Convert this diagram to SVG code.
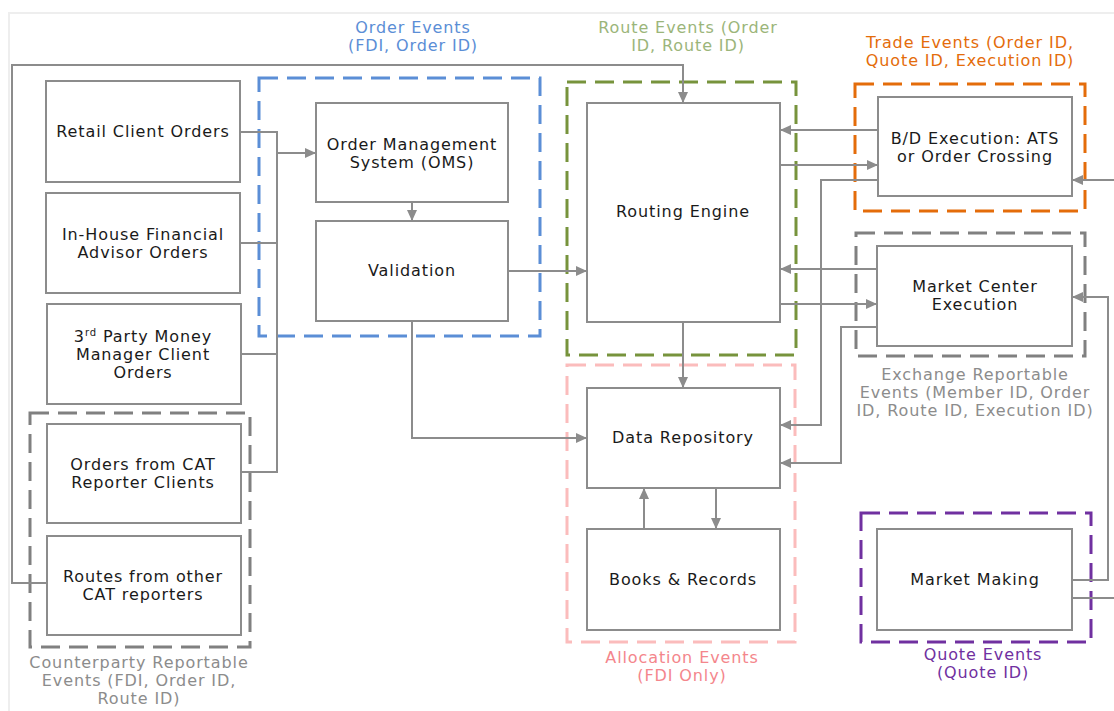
<svg xmlns="http://www.w3.org/2000/svg" width="1114" height="711" viewBox="0 0 1114 711">
<defs>
<marker id="ah" markerUnits="userSpaceOnUse" markerWidth="12" markerHeight="10" refX="11" refY="5" orient="auto">
<path d="M0,0 L11,5 L0,10 Z" fill="#8c8c8c"/>
</marker>
<style>
.node rect{fill:#fff;stroke:#8c8c8c;stroke-width:2}
.node text{font-family:"DejaVu Sans",Verdana,sans-serif;font-size:16px;letter-spacing:0.9px;fill:#1a1a1a;text-anchor:middle}
.grp{fill:none;stroke-width:3;stroke-dasharray:19 9}
.lbl{font-family:"DejaVu Sans",Verdana,sans-serif;font-size:16px;letter-spacing:0.9px;text-anchor:middle}
.conn path{fill:none;stroke:#8c8c8c;stroke-width:2}
.arr{marker-end:url(#ah)}
</style>
</defs>
<rect x="0" y="0" width="1114" height="711" fill="#fff"/>
<path d="M9,711 V13 H1114" fill="none" stroke="#eeeeee" stroke-width="2"/>

<g id="groups">
<rect id="g-order" class="grp" x="259" y="78" width="281" height="258" stroke="#5B8ED6"/>
<rect id="g-route" class="grp" x="567" y="82" width="229" height="273" stroke="#77933C"/>
<rect id="g-alloc" class="grp" x="567" y="365" width="228" height="277" stroke="#FBBCBC"/>
<rect id="g-trade" class="grp" x="855" y="84" width="230" height="127" stroke="#E46C0A"/>
<rect id="g-exch" class="grp" x="856" y="233" width="229" height="123" stroke="#808080"/>
<rect id="g-quote" class="grp" x="861" y="513" width="230" height="129" stroke="#7030A0"/>
<rect id="g-counter" class="grp" x="30" y="413" width="220" height="234" stroke="#808080"/>
</g>

<g id="labels">
<text class="lbl" fill="#5B8ED6" x="413" y="33">Order Events</text>
<text class="lbl" fill="#5B8ED6" x="413" y="51">(FDI, Order ID)</text>
<text class="lbl" fill="#9BB57A" x="688" y="33">Route Events (Order</text>
<text class="lbl" fill="#9BB57A" x="688" y="51">ID, Route ID)</text>
<text class="lbl" fill="#E46C0A" x="970" y="48">Trade Events (Order ID,</text>
<text class="lbl" fill="#E46C0A" x="970" y="66">Quote ID, Execution ID)</text>
<text class="lbl" fill="#8c8c8c" x="975" y="380">Exchange Reportable</text>
<text class="lbl" fill="#8c8c8c" x="975" y="398">Events (Member ID, Order</text>
<text class="lbl" fill="#8c8c8c" x="975" y="416">ID, Route ID, Execution ID)</text>
<text class="lbl" fill="#F4868C" x="682" y="663">Allocation Events</text>
<text class="lbl" fill="#F4868C" x="682" y="681">(FDI Only)</text>
<text class="lbl" fill="#7030A0" x="983" y="660">Quote Events</text>
<text class="lbl" fill="#7030A0" x="983" y="678">(Quote ID)</text>
<text class="lbl" fill="#8c8c8c" x="139" y="668">Counterparty Reportable</text>
<text class="lbl" fill="#8c8c8c" x="139" y="686">Events (FDI, Order ID,</text>
<text class="lbl" fill="#8c8c8c" x="139" y="704">Route ID)</text>
</g>

<g id="connectors" class="conn">
<path d="M240,132 H277 V472 H241"/>
<path d="M240,243 H277"/>
<path d="M241,354 H277"/>
<path class="arr" d="M277,153 H316"/>
<path class="arr" d="M47,583 H12 V65 H683 V103"/>
<path class="arr" d="M412,202 V221"/>
<path class="arr" d="M508,271 H587"/>
<path class="arr" d="M412,321 V438 H587"/>
<path class="arr" d="M683,322 V388"/>
<path class="arr" d="M644,529 V488"/>
<path class="arr" d="M716,488 V529"/>
<path class="arr" d="M878,130 H780"/>
<path class="arr" d="M780,165 H878"/>
<path class="arr" d="M878,180 H821 V425 H780"/>
<path class="arr" d="M877,269 H780"/>
<path class="arr" d="M780,304 H877"/>
<path class="arr" d="M877,327 H841 V463 H780"/>
<path class="arr" d="M1072,580 H1108 V297 H1072"/>
<path d="M1072,598 H1114"/>
<path class="arr" d="M1114,180 H1072"/>
</g>

<g id="n-retail" class="node"><rect x="46" y="81" width="194" height="101"/><text x="143" y="137">Retail Client Orders</text></g>
<g id="n-inhouse" class="node"><rect x="46" y="193" width="194" height="100"/><text x="143" y="240">In-House Financial</text><text x="143" y="258">Advisor Orders</text></g>
<g id="n-3rd" class="node"><rect x="47" y="304" width="194" height="100"/><text x="143" y="342">3<tspan font-size="10" dy="-6">rd</tspan><tspan dy="6"> Party Money</tspan></text><text x="143" y="360">Manager Client</text><text x="143" y="378">Orders</text></g>
<g id="n-catclients" class="node"><rect x="47" y="424" width="194" height="99"/><text x="143" y="470">Orders from CAT</text><text x="143" y="488">Reporter Clients</text></g>
<g id="n-routes" class="node"><rect x="47" y="536" width="194" height="99"/><text x="143" y="582">Routes from other</text><text x="143" y="600">CAT reporters</text></g>
<g id="n-oms" class="node"><rect x="316" y="103" width="192" height="99"/><text x="412" y="150">Order Management</text><text x="412" y="168">System (OMS)</text></g>
<g id="n-validation" class="node"><rect x="316" y="221" width="192" height="100"/><text x="412" y="276">Validation</text></g>
<g id="n-routing" class="node"><rect x="587" y="103" width="193" height="219"/><text x="683" y="217">Routing Engine</text></g>
<g id="n-datarepo" class="node"><rect x="587" y="388" width="193" height="100"/><text x="683" y="443">Data Repository</text></g>
<g id="n-books" class="node"><rect x="587" y="529" width="193" height="101"/><text x="683" y="585">Books &amp; Records</text></g>
<g id="n-bd" class="node"><rect x="878" y="97" width="194" height="99"/><text x="975" y="144">B/D Execution: ATS</text><text x="975" y="162">or Order Crossing</text></g>
<g id="n-market" class="node"><rect x="877" y="246" width="195" height="100"/><text x="975" y="292">Market Center</text><text x="975" y="310">Execution</text></g>
<g id="n-mm" class="node"><rect x="877" y="529" width="195" height="101"/><text x="975" y="585">Market Making</text></g>
</svg>
